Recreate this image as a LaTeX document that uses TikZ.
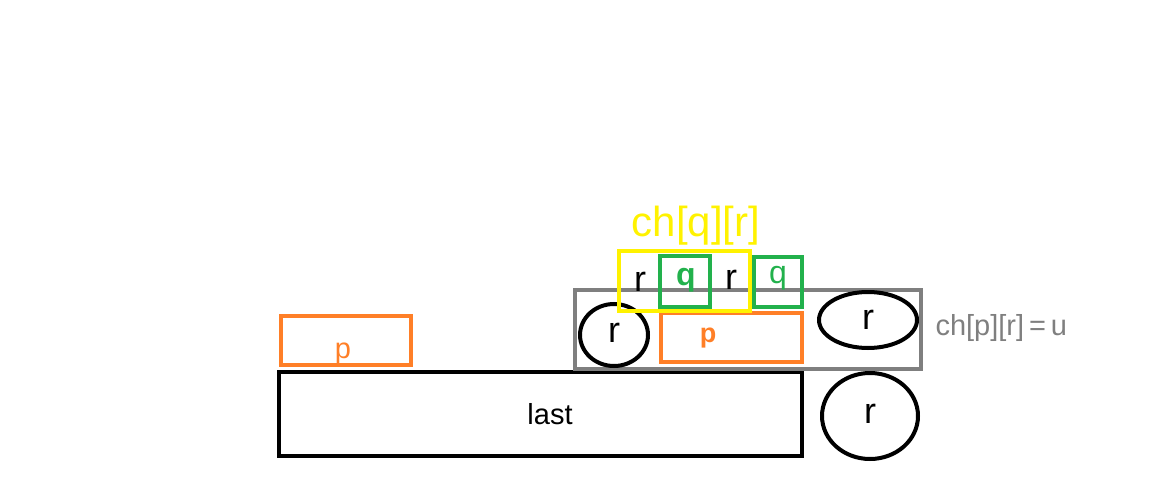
\documentclass[tikz,border=0pt]{standalone}
\usepackage{fontspec}
\setmainfont{Liberation Sans}
\definecolor{porange}{RGB}{255,127,39}
\definecolor{pgreen}{RGB}{34,177,76}
\definecolor{pyellow}{RGB}{255,242,0}
\definecolor{pgray}{RGB}{127,127,127}
\begin{document}
\begin{tikzpicture}[x=1pt,y=-1pt,
  box/.style={draw,line width=4pt},
  hand/.style={font=\fontsize{36}{36}\selectfont},
  lbl/.style={font=\fontsize{29}{30}\selectfont}]
\useasboundingbox (0,0) rectangle (1173,500);
% left p box
\draw[box,porange] (281,316) rectangle (411,365);
\node[lbl,porange,anchor=base] (p1) at (343,358) {p};
% last box
\draw[box,black] (279,372) rectangle (802,456);
\node[lbl] (last) at (550,414) {last};
% gray box
\draw[box,pgray] (575,290) rectangle (921,369);
% circles
\draw[line width=4pt] (614,335) ellipse [x radius=34,y radius=31];
\node[hand] (c1) at (614,333) {r};
\draw[line width=4pt] (868,320) ellipse [x radius=49,y radius=28];
\node[hand] (c2) at (868,320) {r};
\draw[line width=4pt] (870,416) ellipse [x radius=48,y radius=43];
\node[hand] (c3) at (870,414) {r};
% orange p in gray
\draw[box,porange] (661,313) rectangle (802,362);
\node[porange,font=\bfseries\fontsize{27}{28}\selectfont] (p2) at (708,338) {p};
% yellow box
\draw[box,pyellow] (619,251) rectangle (750,311);
\draw[box,pgreen] (660,256) rectangle (710,307);
\draw[box,pgreen] (754,257) rectangle (802,307);
\node[hand] (r1) at (640,282) {r};
\node[pgreen,font=\bfseries\fontsize{32}{32}\selectfont] (q1) at (686,280) {q};
\node[hand] (r2) at (731,280) {r};
\node[pgreen,font=\fontsize{32}{32}\selectfont] (q2) at (778,278) {q};
% yellow label
\node[pyellow,font=\fontsize{42}{42}\selectfont] (chq) at (696,226) {ch[q][r]};
% gray label
\node[pgray,lbl,anchor=west] (chp) at (932,328) {ch[p][r]\,=\,u};
\end{tikzpicture}
\end{document}
